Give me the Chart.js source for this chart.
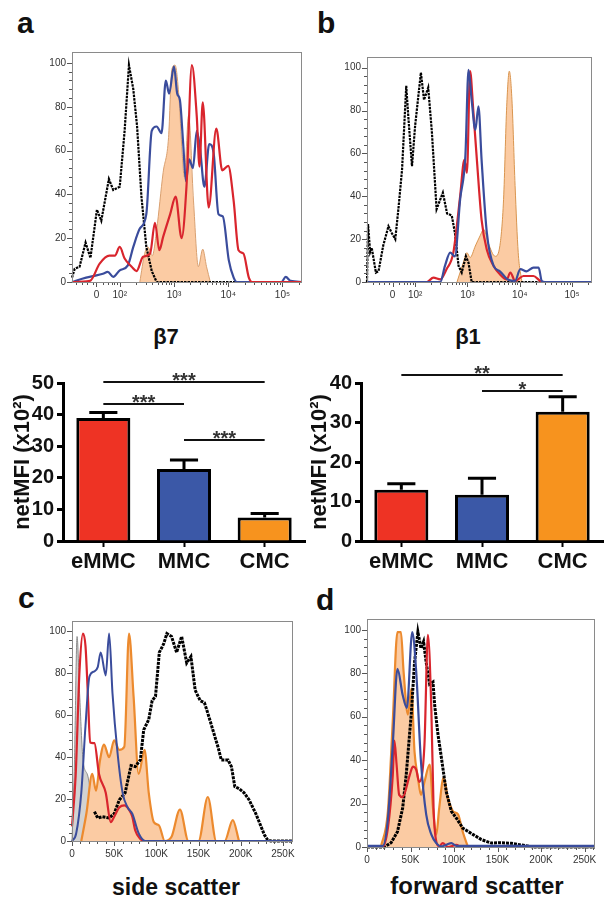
<!DOCTYPE html>
<html>
<head>
<meta charset="utf-8">
<script src="https://cdn.jsdelivr.net/npm/chart.js"></script>
<style>
  body { margin: 0; background: #fff; width: 611px; height: 905px; position: relative; overflow: hidden;
         font-family: "Liberation Sans", Arial, sans-serif; color: #111; }
  canvas { position: absolute; }
  .txt { position: absolute; font-weight: bold; line-height: 1; white-space: nowrap; }
</style>
</head>
<body>
<div class="txt" style="left:17px;top:8px;font-size:30px">a</div>
<div class="txt" style="left:317px;top:8px;font-size:30px">b</div>
<div class="txt" style="left:18px;top:583px;font-size:30px">c</div>
<div class="txt" style="left:316px;top:585px;font-size:30px">d</div>
<div class="txt" style="left:116px;width:100px;text-align:center;top:326px;font-size:22px">β7</div>
<div class="txt" style="left:418px;width:100px;text-align:center;top:326px;font-size:22px">β1</div>
<div class="txt" style="left:76px;width:200px;text-align:center;top:876px;font-size:23px">side scatter</div>
<div class="txt" style="left:377px;width:200px;text-align:center;top:874px;font-size:24px">forward scatter</div>

<canvas id="histA" width="270" height="265" style="left:40px;top:40px"></canvas>
<canvas id="histB" width="270" height="260" style="left:335px;top:45px"></canvas>
<canvas id="barB7" width="310" height="215" style="left:0px;top:360px"></canvas>
<canvas id="barB1" width="311" height="215" style="left:300px;top:360px"></canvas>
<canvas id="histC" width="265" height="255" style="left:40px;top:609px"></canvas>
<canvas id="histD" width="270" height="263" style="left:335px;top:607px"></canvas>

<script>
// Histograms a and b: x = position in decades on the biexponential axis, y = % of max
const aRed = [[1.12,0],[1.45,0.5],[1.63,8.4],[1.81,12],[1.91,12],[2.0,16],[2.09,10.7],[2.22,7],[2.31,5],[2.43,11.5],[2.56,13],[2.65,27],[2.73,14.5],[2.80,20.6],[2.93,31],[3.03,39],[3.14,20],[3.23,43.5],[3.33,99],[3.42,75.6],[3.47,52.7],[3.53,82],[3.64,34],[3.78,70],[3.89,51],[4.0,53],[4.1,37],[4.19,14.5],[4.28,13],[4.38,2],[4.44,0],[5.36,0]]
const aBlue = [[1.12,0],[1.38,2],[1.57,3],[1.69,3.8],[1.78,4.6],[1.88,2.3],[2.0,5.3],[2.15,7.6],[2.25,16],[2.37,24.4],[2.49,31],[2.59,69],[2.68,71],[2.77,68],[2.85,92],[2.91,86],[3.0,98.5],[3.06,86],[3.11,83],[3.17,63],[3.22,46],[3.28,56],[3.35,52],[3.42,69],[3.48,61],[3.56,43.5],[3.65,63],[3.73,59],[3.82,31],[3.90,30],[4.01,10],[4.10,2],[4.16,0],[4.98,0],[5.06,2.3],[5.15,0.5],[5.36,0]]
const aBlack = [[1.12,2],[1.17,6],[1.26,7],[1.37,18],[1.46,11],[1.58,33],[1.66,28],[1.80,47],[1.88,42],[2.0,43.5],[2.09,69],[2.17,99],[2.25,88],[2.32,71],[2.40,39],[2.49,16],[2.59,5],[2.68,0],[5.36,0]]
const aOrange = [[2.37,0],[2.46,13],[2.52,16],[2.60,12],[2.68,23.7],[2.80,50],[2.90,66],[2.96,97],[3.02,99],[3.09,85],[3.15,59],[3.19,48],[3.27,76],[3.36,37],[3.45,7],[3.53,15],[3.60,7],[3.67,0]]

const bRed = [[1.08,0],[2.22,0],[2.35,2],[2.48,1.2],[2.60,6],[2.73,13.7],[2.86,40],[2.94,57],[2.99,51],[3.05,98.4],[3.11,80.5],[3.18,57],[3.27,29],[3.37,15],[3.50,7.5],[3.62,3.6],[3.75,1.2],[3.82,4.4],[3.91,0.5],[4.07,2.8],[4.26,2.8],[4.39,0.5],[4.45,0],[5.38,0]]
const bBlue = [[1.08,0],[2.48,0],[2.57,7.5],[2.67,13.7],[2.76,12],[2.86,38.6],[2.96,58.8],[3.02,99],[3.08,85],[3.15,71],[3.21,82],[3.27,57],[3.37,23],[3.50,7.5],[3.62,5],[3.78,1],[3.91,0.5],[4.01,6],[4.13,5],[4.26,6.7],[4.36,6.7],[4.42,0.5],[4.48,0],[5.38,0]]
const bBlack = [[1.08,0],[1.10,27],[1.14,14],[1.17,16],[1.25,4.4],[1.30,5],[1.39,17],[1.49,26],[1.55,23],[1.62,20],[1.68,34],[1.75,52.5],[1.83,91.5],[1.87,77],[1.94,54],[2.0,73],[2.11,97.7],[2.17,85],[2.25,90.7],[2.32,70],[2.41,34],[2.53,41.7],[2.61,32],[2.70,31],[2.76,23],[2.83,7.5],[2.89,4.4],[2.97,12],[3.02,9],[3.08,0],[5.38,0]]
const bOrange = [[2.80,0],[2.92,9],[2.99,13.7],[3.05,11.4],[3.15,16.8],[3.24,21.5],[3.31,24.6],[3.40,18],[3.53,12],[3.62,17],[3.69,38.6],[3.75,82],[3.80,98.4],[3.85,85],[3.91,45],[3.97,13.7],[4.04,0]]

// Histograms c and d: x = scatter signal in thousands, y = % of max
const cBlue = [[0,0],[5,3.7],[11,23],[16,55],[20.7,78.5],[26.6,81],[30.5,83],[34,90],[40,79],[44,99],[48,70.5],[54,42],[60,23],[66,16],[71.5,13],[79,3.7],[87,0],[262,0]]
const cRed = [[0,7],[4.3,31],[9,82],[13,99],[16,93],[18.8,70],[21.5,47],[26.6,46.7],[32,32],[40,23],[46,9],[50,11.6],[56,16],[62,17],[67.6,15],[71.5,11.6],[75,5],[81,1],[85,0],[262,0]]
const cBlack = [[26.6,14],[30.5,11],[36,11.6],[44,11],[50,13],[56,19.6],[63,23],[70,36],[75,35.5],[81,38.7],[85,53],[91,58],[95,67],[99,69],[103.5,90],[108.6,94],[112.5,99],[118,97.6],[124,90],[130,97.6],[136,85],[141,88],[146,72],[152,67],[157,66],[161,61],[167,53],[173,45],[177,38.7],[185,38.7],[189,35.5],[193,26],[198,25],[204,23],[210,19.6],[218,13],[224,7],[228,3],[232,0.5],[235.5,0],[262,0]]
const cOrange = [[11,0],[17,13],[24,32],[28.5,24],[33,38],[38,46],[44,40],[50,48],[56,43.5],[62,45],[67.6,99],[73,69],[79,32],[86,43.5],[91,23],[97,9],[103,7.5],[110,0],[118,2],[128,15],[138,0],[150,0],[161,21],[171,0],[181,0],[190.6,10],[198,0]]
const cGray = [[0,0],[3,39],[6,97.6],[9,70.5],[13,39],[18.8,31],[24.6,16],[30.5,3.7],[36,1.3],[44,0],[52,3],[58,0],[69.5,3],[75,0],[262,0]]

const dBlue = [[0,0.5],[18,0.5],[24,13],[29.6,47],[35,82],[41,70],[45.8,64],[52,99],[56.5,81],[62,39.4],[68,15],[74,5.7],[79.6,1.8],[85,0.3],[91,1],[97,1.8],[102.7,0.5],[262,0.5]]
const dRed = [[0,0],[18,0],[24,8.7],[29.6,33],[31.5,49],[34,38],[37,24],[41,23],[49,33],[52.7,37],[56.5,35.6],[60,30],[66,47],[70,97.7],[74,62.4],[76.5,18],[79.6,2.6],[83,0.3],[87,1.8],[93,0],[102.7,1],[108,0],[262,0]]
const dBlack = [[0,0],[20,0],[27.7,2],[35,7],[41,18],[45,33],[51,62],[54.6,85],[58.5,99],[62,91.5],[65,94.6],[68,85],[72,75],[75.8,76],[77.7,65.5],[81.5,52],[85,42.5],[91,25.6],[97,16.4],[102.7,13.3],[110,8.7],[122,5.7],[131.5,3.4],[143,1.8],[152.7,2],[166,1.7],[179.6,0.8],[191,0],[262,0]]
const dOrange = [[16,0],[24,16.4],[29.6,58],[35,99],[39,99],[42,81],[47,61],[51,73],[54.6,44],[58.5,32],[62,24],[66,30],[72,38],[75.8,18],[79.6,5.7],[83,18],[88,32],[93,22.5],[99,16.4],[104.6,15],[110,7],[116,0]]

// Tick labels
const logMajor = [1.57, 2, 3, 4, 5]
const logLabels = ['0', '10²', '10³', '10⁴', '10⁵']
const logLinearMinor = [1.2, 1.3, 1.4, 1.5, 1.7, 1.78, 1.85, 1.9, 1.95]
const scatterMajor = [0, 50, 100, 150, 200, 250]
const scatterLabels = ['0', '50K', '100K', '150K', '200K', '250K']
const pctMajor = [0, 20, 40, 60, 80, 100]

// Bar charts: netMFI (x10^2), mean and SEM
const cells = ['eMMC', 'MMC', 'CMC']
const b7Mean = [38.9, 22.8, 7.4]
const b7Sem = [1.8, 2.8, 1.3]
const b1Mean = [13.0, 11.7, 32.7]
const b1Sem = [1.5, 4.2, 3.8]
const b7Sig = [['eMMC', 'CMC', 50.4, '***'], ['eMMC', 'MMC', 43.3, '***'], ['MMC', 'CMC', 32.0, '***']]
const b1Sig = [['eMMC', 'CMC', 41.9, '**'], ['MMC', 'CMC', 38.0, '*']]

const RED = '#d9252d', BLUE = '#3a4c9c', ORANGE = '#ec8a2e', PEACH = '#fbcba3'
const FONT = '"Liberation Sans", Arial, sans-serif'

// minor tick positions
const logMinor = [...logLinearMinor]
for (let d = 2; d <= 5; d++) {
    for (let k = 2; k <= 9; k++) logMinor.push(d + Math.log10(k))
}
const scatterMinor = []
for (let v = 10; v <= 260; v += 10) if (v % 50) scatterMinor.push(v)
const pctMinor = []
for (let v = 4; v <= 100; v += 4) if (v % 20) pctMinor.push(v)

const tickList = (major, minor, min, max) =>
    [...major, ...minor].filter(v => v >= min && v <= max).sort((p, q) => p - q).map(v => ({ value: v }))

// Draw grey frame around plot area and ticks (long for labelled, short for minor)
const frameTicks = {
    id: 'frameTicks',
    afterDraw(chart) {
        const { ctx, chartArea: a } = chart
        const xs = chart.scales.x, ys = chart.scales.y
        ctx.save()
        ctx.strokeStyle = '#555'
        ctx.lineWidth = 1
        ctx.beginPath()
        xs.ticks.forEach(t => {
            const px = Math.round(xs.getPixelForValue(t.value)) + 0.5
            ctx.moveTo(px, a.bottom)
            ctx.lineTo(px, a.bottom + (t.label ? 5 : 3))
        })
        ys.ticks.forEach(t => {
            const py = Math.round(ys.getPixelForValue(t.value)) + 0.5
            ctx.moveTo(a.left, py)
            ctx.lineTo(a.left - (t.label ? 5 : 3), py)
        })
        ctx.stroke()
        ctx.strokeStyle = '#8a8a8a'
        ctx.strokeRect(Math.round(a.left) + 0.5, Math.round(a.top) + 0.5,
            Math.round(a.right - a.left) - 1, Math.round(a.bottom - a.top))
        ctx.restore()
    }
}

const toXY = pts => pts.map(([x, y]) => ({ x, y }))

const curve = (pts, color, width) => ({
    data: toXY(pts), borderColor: color, borderWidth: width, pointRadius: 0,
    fill: false, tension: 0.35, cubicInterpolationMode: 'monotone', clip: false
})
const dotted = (pts, width, dash) => ({
    data: toXY(pts), borderColor: '#000', borderWidth: width, borderDash: dash,
    pointRadius: 0, fill: false, tension: 0, clip: false
})
const filled = (pts, line, bg, width) => ({
    data: toXY(pts), borderColor: line, backgroundColor: bg, borderWidth: width, pointRadius: 0,
    fill: 'origin', tension: 0.35, cubicInterpolationMode: 'monotone', clip: false
})

const histogram = (id, datasets, xr, pad) => {
    const xLabels = new Map(xr.major.map((v, i) => [v, xr.labels[i]]))
    const tickFont = { family: FONT, size: 10 }
    new Chart(document.getElementById(id), {
        type: 'line',
        data: { datasets },
        options: {
            responsive: false,
            animation: false,
            layout: { padding: { top: pad.top, right: pad.right, left: 0, bottom: 0 } },
            plugins: { legend: { display: false }, tooltip: { enabled: false } },
            scales: {
                x: {
                    type: 'linear', min: xr.min, max: xr.max,
                    afterBuildTicks: s => { s.ticks = tickList(xr.major, xr.minor, xr.min, xr.max) },
                    afterFit: s => { s.height = pad.xh },
                    ticks: { autoSkip: false, maxRotation: 0, padding: 7, color: '#333', font: tickFont,
                             callback: v => xLabels.get(v) ?? '' },
                    grid: { drawOnChartArea: false, drawTicks: false },
                    border: { display: false }
                },
                y: {
                    type: 'linear', min: 0, max: 105,
                    afterBuildTicks: s => { s.ticks = tickList(pctMajor, pctMinor, 0, 105) },
                    afterFit: s => { s.width = pad.yw },
                    ticks: { autoSkip: false, padding: 6, color: '#333', font: tickFont,
                             callback: v => pctMajor.includes(v) ? String(v) : '' },
                    grid: { drawOnChartArea: false, drawTicks: false },
                    border: { display: false }
                }
            }
        },
        plugins: [frameTicks]
    })
}

const logAxisA = { min: 1.12, max: 5.36, major: logMajor, labels: logLabels, minor: logMinor }
const logAxisB = { min: 1.08, max: 5.38, major: logMajor, labels: logLabels, minor: logMinor }
const scatterAxis = { min: 0, max: 262, major: scatterMajor, labels: scatterLabels, minor: scatterMinor }

histogram('histA', [
    curve(aRed, RED, 2.2), curve(aBlue, BLUE, 2.2), dotted(aBlack, 2.2, [2.5, 1]),
    filled(aOrange, '#d9a070', PEACH, 1)
], logAxisA, { top: 12, right: 8, yw: 32, xh: 23 })

histogram('histB', [
    curve(bBlue, BLUE, 2.2), curve(bRed, RED, 2.2), dotted(bBlack, 2.2, [2.5, 1]),
    filled(bOrange, '#d9954f', PEACH, 1)
], logAxisB, { top: 12, right: 13, yw: 32, xh: 23 })

histogram('histC', [
    curve(cBlue, BLUE, 2), curve(cRed, RED, 2.2), dotted(cBlack, 3, [3, 1]),
    filled(cOrange, ORANGE, PEACH, 2.2), filled(cGray, '#8c8c8c', '#d2d2d2', 1)
], scatterAxis, { top: 12, right: 12, yw: 32, xh: 23 })

histogram('histD', [
    curve(dBlue, BLUE, 2.2), curve(dRed, RED, 2.2), dotted(dBlack, 3, [3, 1]),
    filled(dOrange, ORANGE, PEACH, 2.2)
], scatterAxis, { top: 12, right: 10, yw: 32, xh: 23 })

// Error bars and significance brackets for the bar charts
const barExtras = (mean, sem, sig) => ({
    id: 'barExtras',
    afterDatasetsDraw(chart) {
        const { ctx } = chart
        const xs = chart.scales.x, ys = chart.scales.y
        ctx.save()
        ctx.strokeStyle = '#000'
        ctx.lineWidth = 3
        chart.getDatasetMeta(0).data.forEach((bar, i) => {
            const top = ys.getPixelForValue(mean[i] + sem[i])
            const half = bar.width * 0.26
            ctx.beginPath()
            ctx.moveTo(bar.x, bar.y)
            ctx.lineTo(bar.x, top)
            ctx.moveTo(bar.x - half, top)
            ctx.lineTo(bar.x + half, top)
            ctx.stroke()
        })
        ctx.lineWidth = 2
        ctx.strokeStyle = '#111'
        ctx.fillStyle = '#333'
        ctx.font = 'bold 20px ' + FONT
        ctx.textAlign = 'center'
        sig.forEach(([from, to, level, stars]) => {
            const x1 = xs.getPixelForValue(cells.indexOf(from))
            const x2 = xs.getPixelForValue(cells.indexOf(to))
            const y = Math.round(ys.getPixelForValue(level))
            ctx.beginPath()
            ctx.moveTo(x1, y)
            ctx.lineTo(x2, y)
            ctx.stroke()
            ctx.fillText(stars, (x1 + x2) / 2, y + 5)
        })
        ctx.restore()
    }
})

const barChart = (id, mean, sem, sig, yMax, pad) => {
    new Chart(document.getElementById(id), {
        type: 'bar',
        data: {
            labels: cells,
            datasets: [{
                data: mean,
                backgroundColor: ['#ee3324', '#3b58a7', '#f7931e'],
                borderColor: '#000',
                borderWidth: 3,
                barPercentage: 0.67,
                categoryPercentage: 1
            }]
        },
        options: {
            responsive: false,
            animation: false,
            layout: { padding: { top: pad.top, right: pad.right, left: 0, bottom: 0 } },
            plugins: { legend: { display: false }, tooltip: { enabled: false } },
            scales: {
                x: {
                    afterFit: s => { s.height = 34 },
                    ticks: { padding: 2, color: '#111', font: { family: FONT, size: 22, weight: 'bold' } },
                    grid: { offset: false, drawOnChartArea: false, tickLength: 6, tickWidth: 2, tickColor: '#000' },
                    border: { color: '#000', width: 3 }
                },
                y: {
                    min: 0, max: yMax,
                    afterFit: s => { s.width = pad.yw },
                    ticks: { stepSize: 10, padding: 3, color: '#111', font: { family: FONT, size: 20, weight: 'bold' } },
                    grid: { drawOnChartArea: false, tickLength: 6, tickWidth: 3, tickColor: '#000' },
                    border: { color: '#000', width: 3 },
                    title: { display: true, text: 'netMFI (x10²)', color: '#111', padding: { top: pad.tt, bottom: 0 },
                             font: { family: FONT, size: 22, weight: 'bold' } }
                }
            }
        },
        plugins: [barExtras(mean, sem, sig)]
    })
}

barChart('barB7', b7Mean, b7Sem, b7Sig, 50, { top: 23, right: 5, yw: 63, tt: 10 })
barChart('barB1', b1Mean, b1Sem, b1Sig, 40, { top: 23, right: 8, yw: 61, tt: 7 })
</script>
</body>
</html>
